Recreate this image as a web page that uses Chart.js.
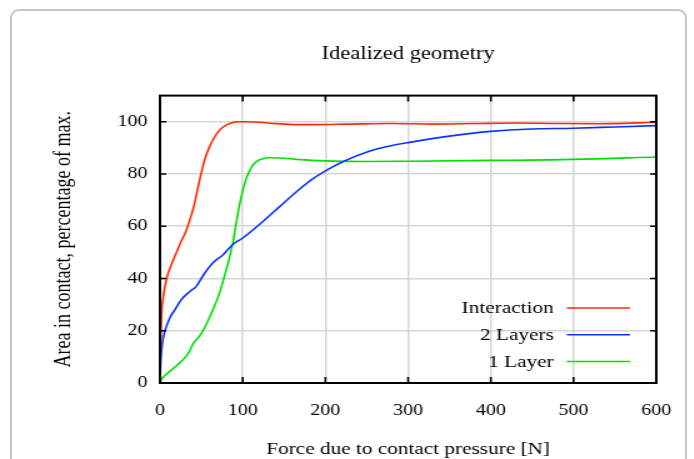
<!DOCTYPE html>
<html><head><meta charset="utf-8">
<script src="https://cdn.jsdelivr.net/npm/chart.js@4"></script>
<style>
html,body{margin:0;padding:0;background:#fff;width:694px;height:459px;overflow:hidden;}
#frame{position:absolute;left:10px;top:9px;width:677px;height:500px;border:2px solid #c6c6c6;border-radius:9px;box-sizing:border-box;}
#wrap{position:absolute;left:0;top:0;width:555px;height:459px;transform:scaleX(1.25);transform-origin:0 0;}
canvas{display:block;}
</style></head>
<body><div id="frame"></div><div id="wrap"><canvas id="c" width="555" height="459"></canvas></div>
<script>
const seriesNames = ['Interaction', '2 Layers', '1 Layer'];
const seriesColors = ['#ff2a00', '#0a32ff', '#00e000'];

const forceInteraction = [0, 1, 2, 4, 8, 14, 20, 26, 32, 36, 40, 43, 46, 50, 54, 59, 64, 70, 76, 86, 95, 105, 120, 140, 165, 190, 230, 280, 330, 380, 430, 480, 530, 600];
const areaInteraction  = [5, 18, 27, 33, 40, 45.5, 50, 54.5, 58.6, 62.4, 66.5, 70.5, 75, 80.5, 85.4, 89.8, 93, 96, 97.9, 99.5, 100, 100, 99.8, 99.3, 98.9, 98.9, 99.1, 99.3, 99.1, 99.3, 99.5, 99.3, 99.2, 99.8];

const force2Layers = [0, 1, 3, 6, 12, 18, 26, 36, 44, 48, 54, 64, 76, 88, 100, 125, 145, 165, 185, 200, 221, 253, 275, 300, 350, 400, 450, 500, 550, 600];
const area2Layers  = [1, 9, 15.5, 20, 25, 28, 32, 35, 37, 39, 42, 46, 49, 53, 55.5, 62, 67.6, 73.2, 78.2, 81.2, 84.7, 88.7, 90.5, 92, 94.5, 96.3, 97.2, 97.5, 98, 98.5];

const force1Layer = [0, 2, 8, 20, 32, 36, 40, 48, 56, 64, 72, 78, 84, 88, 92, 96, 100, 104, 108, 112, 117, 124, 133, 145, 165, 200, 250, 300, 400, 500, 600];
const area1Layer  = [0, 1.5, 3.4, 6.6, 10.4, 12.3, 15, 18, 22.5, 28, 34.5, 41, 48, 53.5, 61, 68, 73.5, 78, 81, 83.3, 84.8, 85.8, 86.2, 86.1, 85.6, 85, 84.8, 84.9, 85.2, 85.6, 86.5];

const xTickValues = [0, 100, 200, 300, 400, 500, 600];
const yTickValues = [0, 20, 40, 60, 80, 100];

const chartTitle = 'Idealized geometry';
const xTitle = 'Force due to contact pressure [N]';
const yTitle = 'Area in contact, percentage of max.';

function pts(xs, ys) { return xs.map((x, i) => ({x: x, y: ys[i]})); }

const FONT = '"Liberation Serif", "Times New Roman", serif';

const frameTicks = {
  id: 'frameTicks',
  afterDatasetsDraw(chart) {
    const {ctx, chartArea: a, scales} = chart;
    ctx.save();
    ctx.strokeStyle = '#000';
    ctx.lineWidth = 1.6;
    ctx.beginPath();
    xTickValues.forEach(v => {
      const px = scales.x.getPixelForValue(v);
      if (v > scales.x.min && v < scales.x.max) {
        ctx.moveTo(px, a.bottom); ctx.lineTo(px, a.bottom - 6);
        ctx.moveTo(px, a.top); ctx.lineTo(px, a.top + 6);
      }
    });
    yTickValues.forEach(v => {
      const py = scales.y.getPixelForValue(v);
      if (v > scales.y.min && v < scales.y.max) {
        ctx.moveTo(a.left, py); ctx.lineTo(a.left + 5, py);
        ctx.moveTo(a.right, py); ctx.lineTo(a.right - 5, py);
      }
    });
    ctx.stroke();
    ctx.lineWidth = 2;
    ctx.strokeRect(a.left, a.top, a.right - a.left, a.bottom - a.top);
    ctx.restore();
  },
  afterDraw(chart) {
    const {ctx, chartArea: a} = chart;
    ctx.save();
    ctx.font = '17px ' + FONT;
    ctx.textAlign = 'right';
    ctx.textBaseline = 'middle';
    chart.data.datasets.forEach((ds, i) => {
      const y = a.bottom - 75 + i * 26.8;
      ctx.fillStyle = '#000';
      ctx.fillText(ds.label, a.right - 82, y + 1);
      ctx.strokeStyle = ds.borderColor;
      ctx.lineWidth = 1.5;
      ctx.beginPath();
      ctx.moveTo(a.right - 71.5, y); ctx.lineTo(a.right - 21, y);
      ctx.stroke();
    });
    ctx.restore();
  }
};

const datasets = [
  {label: seriesNames[0], data: pts(forceInteraction, areaInteraction), borderColor: seriesColors[0]},
  {label: seriesNames[1], data: pts(force2Layers, area2Layers), borderColor: seriesColors[1]},
  {label: seriesNames[2], data: pts(force1Layer, area1Layer), borderColor: seriesColors[2]}
].map(d => Object.assign(d, {borderWidth: 1.6, pointRadius: 0, fill: false, cubicInterpolationMode: 'monotone', backgroundColor: d.borderColor}));

new Chart(document.getElementById('c'), {
  type: 'line',
  data: {datasets: datasets},
  plugins: [frameTicks],
  options: {
    responsive: false,
    animation: false,
    devicePixelRatio: 1,
    layout: {padding: {left: 0, right: 29, top: 0, bottom: 0}},
    plugins: {
      legend: {display: false},
      tooltip: {enabled: false},
      title: {display: true, text: chartTitle, fullSize: false, color: '#000',
        font: {family: FONT, size: 18, weight: 'normal'}, padding: {top: 43, bottom: 31}}
    },
    scales: {
      x: {
        type: 'linear', min: 0, max: 600,
        afterBuildTicks: s => { s.ticks = xTickValues.map(v => ({value: v})); },
        afterFit: s => { s.height = 76; },
        grid: {color: '#d6d6d6', lineWidth: 1.5, drawTicks: false},
        border: {display: false},
        ticks: {color: '#000', padding: 18, font: {family: FONT, size: 16}, maxRotation: 0},
        title: {display: true, text: xTitle, color: '#000', font: {family: FONT, size: 17}, padding: {top: 0, bottom: -1}}
      },
      y: {
        type: 'linear', min: 0, max: 110,
        afterBuildTicks: s => { s.ticks = yTickValues.map(v => ({value: v})); },
        afterFit: s => { s.width = 128; },
        grid: {color: '#d6d6d6', lineWidth: 1.5, drawTicks: false},
        border: {display: false},
        ticks: {color: '#000', padding: 10, font: {family: FONT, size: 16}},
        title: {display: true, text: yTitle, color: '#000', font: {family: FONT, size: 18}, padding: {top: 40, bottom: 0}}
      }
    }
  }
});
</script>
</body></html>
